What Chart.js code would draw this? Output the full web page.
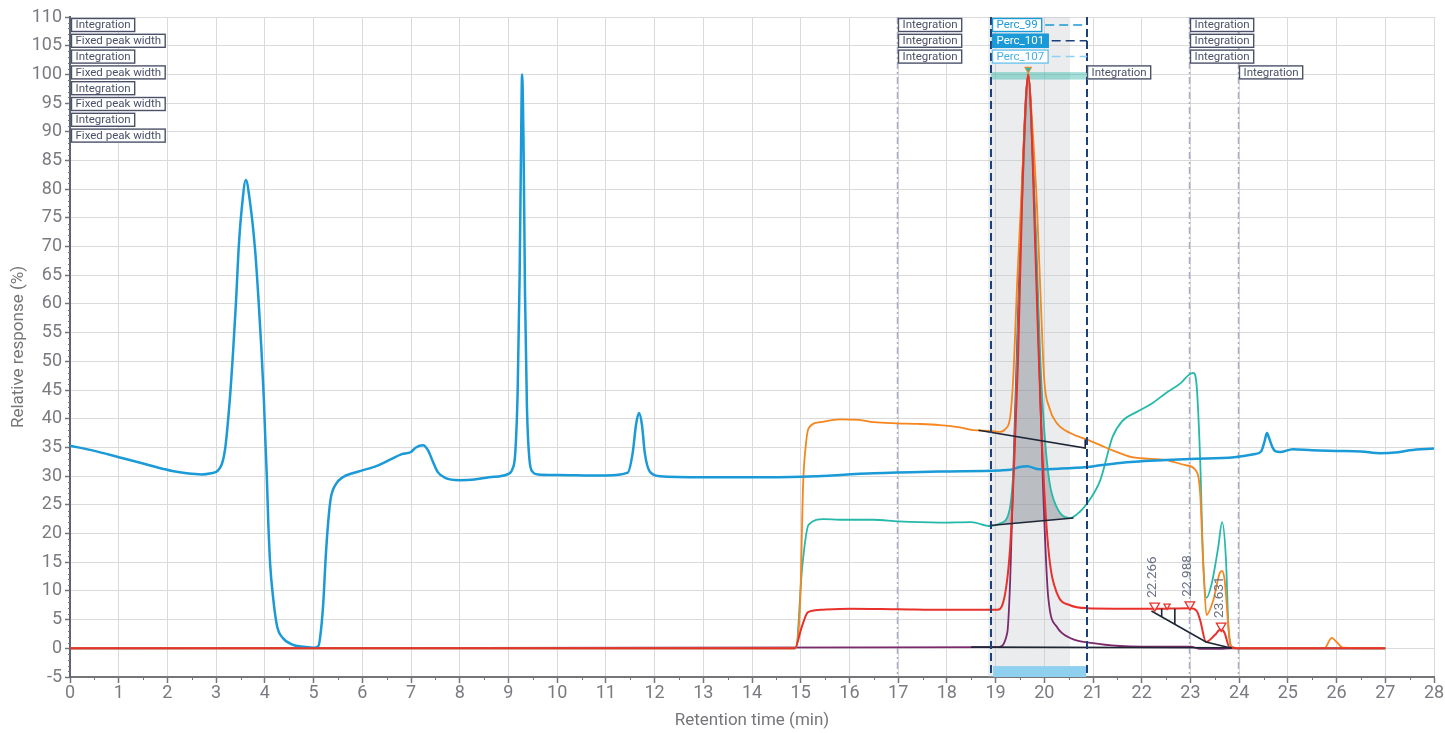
<!DOCTYPE html>
<html><head><meta charset="utf-8">
<script src="https://cdn.jsdelivr.net/npm/chart.js@4"></script>
<style>html,body{margin:0;padding:0;background:#fff}#wrap{width:1445px;height:733px}</style>
</head><body><div id="wrap"><canvas id="c" width="1445" height="733"></canvas></div>
<script>
// ---------- data (retention time min, relative response %) ----------
const blueTrace = [[0,35.3],[0.5,34.4],[1,33.3],[1.5,32.2],[1.8,31.5],[2.1,30.9],[2.4,30.5],[2.7,30.3],[2.9,30.5],[3.04,31],[3.18,34.5],[3.28,43.3],[3.35,52],[3.41,60.7],[3.46,69.4],[3.53,77],[3.61,81.6],[3.69,78.1],[3.8,69.4],[3.87,60.7],[3.93,52],[3.98,43.3],[4.01,36.3],[4.04,30],[4.07,22],[4.11,14.5],[4.17,8.8],[4.25,3.9],[4.37,1.8],[4.58,0.6],[4.75,0.3],[5.0,0.1],[5.1,0.4],[5.15,3],[5.2,8],[5.25,16],[5.3,22],[5.35,26],[5.45,28.5],[5.6,29.8],[5.8,30.5],[6.0,31],[6.3,31.8],[6.6,33],[6.8,33.8],[7.0,34.2],[7.1,35],[7.25,35.4],[7.35,34.5],[7.45,32.5],[7.55,30.7],[7.7,29.7],[8.0,29.3],[8.3,29.4],[8.6,29.8],[9.0,30.4],[9.08,31.2],[9.14,34],[9.19,45],[9.23,65],[9.26,88],[9.28,100],[9.31,88],[9.34,62],[9.38,42],[9.43,33],[9.5,30.7],[9.6,30.3],[10,30.2],[11,30.1],[11.45,30.6],[11.55,34],[11.62,39],[11.68,41],[11.74,39],[11.8,34],[11.9,30.8],[12.1,30],[13,29.8],[14,29.8],[15,29.9],[16.5,30.5],[17.85,30.8],[19.09,31],[19.3,31.1],[19.5,31.6],[19.65,31.7],[19.9,31.2],[20.3,31.3],[20.88,31.6],[21.15,31.9],[21.55,32.3],[22.5,32.8],[23.0,33.0],[23.9,33.3],[24.3,33.8],[24.45,34.3],[24.52,36],[24.57,37.5],[24.62,36.5],[24.68,35.1],[24.75,34.3],[24.84,34.2],[25.1,34.7],[25.5,34.5],[26,34.4],[26.5,34.3],[26.9,34.0],[27.2,34.1],[27.5,34.5],[28,34.8]];
const orangeTrace = [[0,0],[14.88,0],[14.99,8.4],[15.05,28.7],[15.1,35],[15.16,38.3],[15.4,39.4],[15.8,39.9],[16.2,39.8],[16.5,39.4],[16.98,39.2],[17.4,39.1],[17.85,38.9],[18.27,38.5],[18.54,38.0],[18.9,37.9],[19.09,37.7],[19.2,38.2],[19.3,40.3],[19.36,46.7],[19.45,65],[19.52,77],[19.6,92],[19.67,100.2],[19.74,93],[19.85,77],[19.93,60],[20.0,46.7],[20.1,42],[20.26,39.2],[20.53,37.5],[20.87,36.4],[21.15,35.4],[21.4,34.5],[21.8,33.3],[22.5,32.8],[22.9,31.9],[23.1,31.1],[23.2,27],[23.26,15.4],[23.33,5.8],[23.47,8.4],[23.6,13.1],[23.65,13.5],[23.7,12],[23.8,2],[23.85,0.2],[24,0],[25.75,0],[25.9,1.8],[26.0,1.1],[26.13,0.1],[27,0]];
const tealTrace = [[0,0],[14.9,0],[15.03,14.1],[15.16,21.5],[15.47,22.5],[15.8,22.4],[16.5,22.4],[17,22.1],[17.85,21.9],[18.5,22],[18.89,21.3],[19.1,21.8],[19.25,23],[19.32,26],[19.38,33],[19.43,46.7],[19.52,72],[19.6,90],[19.67,100],[19.75,88],[19.83,72],[19.92,50],[20.0,38],[20.1,29.3],[20.26,24.5],[20.53,22.7],[20.73,23.8],[20.9,25.5],[21.15,29.3],[21.4,36.8],[21.6,39.6],[21.9,41.2],[22.2,42.6],[22.5,44.5],[22.8,46.2],[22.96,47.6],[23.06,48],[23.13,45.5],[23.2,32.8],[23.26,15.4],[23.33,8.8],[23.44,11.4],[23.57,17.6],[23.65,22],[23.73,15.4],[23.78,3.7],[23.85,0.2],[24,0],[27,0]];
const redTrace = [[0,0],[14.88,0],[15.02,3.7],[15.15,6.3],[15.4,6.7],[16,6.9],[17,6.8],[18,6.7],[19.03,6.7],[19.16,8.1],[19.3,17.7],[19.38,32],[19.46,50],[19.54,76.8],[19.62,95],[19.67,100],[19.73,93],[19.79,76.8],[19.87,55],[19.95,36],[20.08,17.7],[20.26,9.6],[20.53,7.5],[20.87,7.0],[22.2,6.9],[23.0,7.0],[23.13,6.5],[23.2,4.9],[23.32,1.1],[23.5,2.3],[23.62,3.3],[23.7,2.7],[23.8,0.2],[24,0],[27,0]];
const purpleTrace = [[0,0],[19.05,0.2],[19.24,2.7],[19.3,11.9],[19.36,29.3],[19.45,55],[19.55,82],[19.67,100],[19.78,82],[19.88,55],[19.97,29.3],[20.08,9],[20.26,3.7],[20.53,1.8],[21.0,0.9],[21.55,0.4],[22,0.3],[23,0.3],[23.2,-0.1],[23.6,-0.1],[23.85,0],[27,0]];

// integration baselines
const orangeBaseline = [[18.65,38.0],[20.84,34.9],[20.84,36.4]];
const tealBaseline = [[18.88,21.4],[20.6,22.7]];
const purpleBaseline = [[18.5,0.2],[23.85,0.1]];
const redBaseline = [[22.2,6.5],[23.32,1.1],[23.85,0.0]];
const redDrop1 = [[22.41,6.9],[22.41,5.5]];
const redDrop2 = [[22.68,6.9],[22.68,4.2]];
const tealFillRange = [18.88, 20.6];

// peak markers
const redPeaks = [[22.266,7.4],[22.52,7.4],[22.988,7.6],[23.631,3.9]];
const redPeakLabels = ['22.266','','22.988','23.631'];
const mainPeak = [[19.67,100.9]];

// regions & events
const shadeRange = [18.85, 20.53];
const windowLines = [18.91, 20.88];
const tealBand = [99.1, 100.4];
const bottomBar = [18.95, 20.86, -3.1, -5];
const eventLines = [17, 23, 24];
const leftNotes = ['Integration','Fixed peak width','Integration','Fixed peak width','Integration','Fixed peak width','Integration','Fixed peak width'];
const noteGroups = [
  {x:0, texts:leftNotes, first:0},
  {x:17, texts:['Integration','Integration','Integration'], first:0},
  {x:23, texts:['Integration','Integration','Integration'], first:0},
  {x:24, texts:['Integration'], first:3},
  {x:20.88, texts:['Integration'], first:3}
];
const percNames = ['Perc_99','Perc_101','Perc_107'];

const xTicks = {min:0, max:28, step:1};
const yTicks = {min:-5, max:110, step:5};

// ---------- helpers ----------
const pts = a => a.map(p => ({x:p[0], y:p[1]}));
const FONT = 'Roboto, "Noto Sans", Arial, sans-serif';

function box(ctx, x, top, text, o){
  ctx.font = '11.5px ' + FONT;
  const w = ctx.measureText(text).width + 9, h = 14;
  ctx.fillStyle = o.bg; ctx.fillRect(x, top, w, h);
  ctx.strokeStyle = o.border; ctx.lineWidth = 1.4; ctx.setLineDash([]);
  ctx.strokeRect(x+0.5, top+0.5, w-1, h-1);
  ctx.fillStyle = o.color; ctx.textBaseline = 'middle'; ctx.textAlign = 'left';
  ctx.fillText(text, x+4.5, top+h/2+0.5);
  return w;
}

const annot = {
  id:'annot',
  beforeDatasetsDraw(chart){
    const {ctx, chartArea:a, scales:{x,y}} = chart;
    ctx.save();
    const s0 = x.getPixelForValue(shadeRange[0]), s1 = x.getPixelForValue(shadeRange[1]);
    ctx.fillStyle = 'rgba(190,195,202,0.32)';
    ctx.fillRect(s0, a.top, s1-s0, a.bottom-a.top);
    const w0 = x.getPixelForValue(windowLines[0]), w1 = x.getPixelForValue(windowLines[1]);
    ctx.fillStyle = 'rgba(38,181,165,0.42)';
    ctx.fillRect(w0, y.getPixelForValue(tealBand[1]), w1-w0, y.getPixelForValue(tealBand[0])-y.getPixelForValue(tealBand[1]));
    const b0 = x.getPixelForValue(bottomBar[0]), b1 = x.getPixelForValue(bottomBar[1]);
    ctx.fillStyle = '#8fd0ee';
    ctx.fillRect(b0, y.getPixelForValue(bottomBar[2]), b1-b0, y.getPixelForValue(bottomBar[3])-y.getPixelForValue(bottomBar[2]));
    ctx.strokeStyle = '#a9aec2'; ctx.lineWidth = 1.5; ctx.setLineDash([7,3,2,3]);
    eventLines.forEach(v => {
      const px = Math.round(x.getPixelForValue(v)) - 0.5;
      ctx.beginPath(); ctx.moveTo(px, a.top); ctx.lineTo(px, a.bottom); ctx.stroke();
    });
    ctx.restore();
  },
  afterDatasetsDraw(chart){
    const {ctx, chartArea:a, scales:{x,y}} = chart;
    ctx.save();
    ctx.strokeStyle = '#1d3f7c'; ctx.lineWidth = 2; ctx.setLineDash([8,4]);
    windowLines.forEach(v => {
      const px = Math.round(x.getPixelForValue(v));
      ctx.beginPath(); ctx.moveTo(px, a.top); ctx.lineTo(px, a.bottom); ctx.stroke();
    });
    const pitch = 15.8;
    noteGroups.forEach(g => {
      const px = Math.round(x.getPixelForValue(g.x)) + (g.x === 0 ? 1 : 0);
      g.texts.forEach((t, i) => {
        box(ctx, px, a.top + 1 + (g.first + i) * pitch, t, {bg:'#fff', border:'#4b5168', color:'#4b5168'});
      });
    });
    const pStyles = [
      {bg:'#fff', border:'#1a9ad6', color:'#1a9ad6', line:'#1a9ad6'},
      {bg:'#1a9ad6', border:'#1a9ad6', color:'#fff', line:'#1d3f7c'},
      {bg:'#fff', border:'#6cc4ec', color:'#45b0e0', line:'#8fd3f2'}
    ];
    const p0 = Math.round(x.getPixelForValue(windowLines[0])) + 1;
    const p1 = x.getPixelForValue(windowLines[1]);
    percNames.forEach((t, i) => {
      const top = a.top + 1 + i * pitch;
      const w = box(ctx, p0, top, t, pStyles[i]);
      ctx.strokeStyle = pStyles[i].line; ctx.lineWidth = 1.5; ctx.setLineDash([9,5]);
      ctx.beginPath(); ctx.moveTo(p0 + w + 3, top + 7); ctx.lineTo(p1, top + 7); ctx.stroke();
    });
    const meta = chart.getDatasetMeta(0);
    ctx.setLineDash([]);
    ctx.font = '13.5px ' + FONT; ctx.fillStyle = '#6b7184';
    meta.data.forEach((el, i) => {
      const t = redPeakLabels[i]; if (!t) return;
      ctx.save(); ctx.translate(el.x + 5, el.y - 8); ctx.rotate(-Math.PI/2);
      ctx.textAlign = 'left'; ctx.textBaseline = 'bottom'; ctx.fillText(t, 0, 0);
      ctx.restore();
    });
    ctx.restore();
  },
  afterDraw(chart){
    const {ctx, chartArea:a, scales:{x,y}} = chart;
    ctx.save();
    ctx.strokeStyle = '#75767a'; ctx.lineWidth = 1;
    for (let v = xTicks.min + 0.5; v < xTicks.max; v += 1) {
      const px = Math.round(x.getPixelForValue(v)) + 0.5;
      ctx.beginPath(); ctx.moveTo(px, a.bottom); ctx.lineTo(px, a.bottom + 3); ctx.stroke();
    }
    for (let v = yTicks.min; v <= yTicks.max; v += 1) {
      if (v % 5 === 0) continue;
      const py = Math.round(y.getPixelForValue(v)) + 0.5;
      ctx.beginPath(); ctx.moveTo(a.left - 2, py); ctx.lineTo(a.left, py); ctx.stroke();
    }
    ctx.restore();
  }
};

const lineDs = (label, data, color, width, order) => ({
  type:'line', label, data: pts(data), borderColor: color, backgroundColor: color,
  borderWidth: width, pointRadius: 0, cubicInterpolationMode:'monotone', fill:false, order
});
const baseDs = (data) => ({
  type:'line', data: pts(data), borderColor:'#1e2636', borderWidth:1.6, pointRadius:0, tension:0, fill:false, order:1
});

const tealFillData = tealTrace.filter(p => p[0] >= tealFillRange[0] && p[0] <= tealFillRange[1]);

const datasets = [
  {type:'scatter', label:'peaks', data: pts(redPeaks), pointStyle:'triangle', rotation:180,
   pointRadius:[5.5,3.5,5.5,5.5], borderColor:'#e8312b', backgroundColor:'rgba(255,255,255,0.6)', borderWidth:1.3, order:0},
  {type:'scatter', label:'top', data: pts(mainPeak), pointStyle:'triangle', rotation:180,
   pointRadius:4, borderColor:'#f7861e', backgroundColor:'#25b9a9', borderWidth:1, order:0},
  baseDs(orangeBaseline), baseDs(tealBaseline), baseDs(purpleBaseline), baseDs(redBaseline), baseDs(redDrop1), baseDs(redDrop2),
  lineDs('red', redTrace, '#e8312b', 2, 2),
  lineDs('blue', blueTrace, '#1a9ad6', 2.5, 3),
  lineDs('orange', orangeTrace, '#f7861e', 1.8, 4),
  lineDs('teal', tealTrace, '#25b9a9', 1.8, 5),
  lineDs('purple', purpleTrace, '#7b2a6d', 1.8, 6),
];
datasets.push({type:'line', label:'tealFill', data: pts(tealFillData), borderWidth:0, borderColor:'rgba(0,0,0,0)',
  pointRadius:0, cubicInterpolationMode:'monotone', fill:{target:3}, backgroundColor:'rgba(120,126,136,0.42)', order:7});

new Chart(document.getElementById('c'), {
  data:{datasets},
  options:{
    responsive:false, animation:false, devicePixelRatio:1,
    layout:{padding:{top:17, right:11, left:0, bottom:0}},
    plugins:{legend:{display:false}, tooltip:{enabled:false}},
    scales:{
      x:{type:'linear', min:xTicks.min, max:xTicks.max,
        ticks:{stepSize:xTicks.step, autoSkip:false, maxRotation:0, color:'#7a7b80', font:{family:FONT, size:18}, padding:0},
        grid:{color:'#dadada', lineWidth:1, tickLength:6, tickColor:'#75767a', tickWidth:1.5},
        border:{color:'#75767a', width:2},
        title:{display:true, text:'Retention time (min)', color:'#75767a', font:{family:FONT, size:17}, padding:{top:0,bottom:2}},
        afterFit(s){ s.height = 56; }
      },
      y:{type:'linear', min:yTicks.min, max:yTicks.max,
        ticks:{stepSize:yTicks.step, color:'#7a7b80', font:{family:FONT, size:18}, padding:3},
        grid:{color:'#dadada', lineWidth:1, tickLength:5, tickColor:'#75767a', tickWidth:1.5},
        border:{color:'#5f6372', width:2},
        title:{display:true, text:'Relative response (%)', color:'#75767a', font:{family:FONT, size:17}, padding:{top:9,bottom:0}},
        afterFit(s){ s.width = 70; }
      }
    }
  },
  plugins:[annot]
});
</script></body></html>
